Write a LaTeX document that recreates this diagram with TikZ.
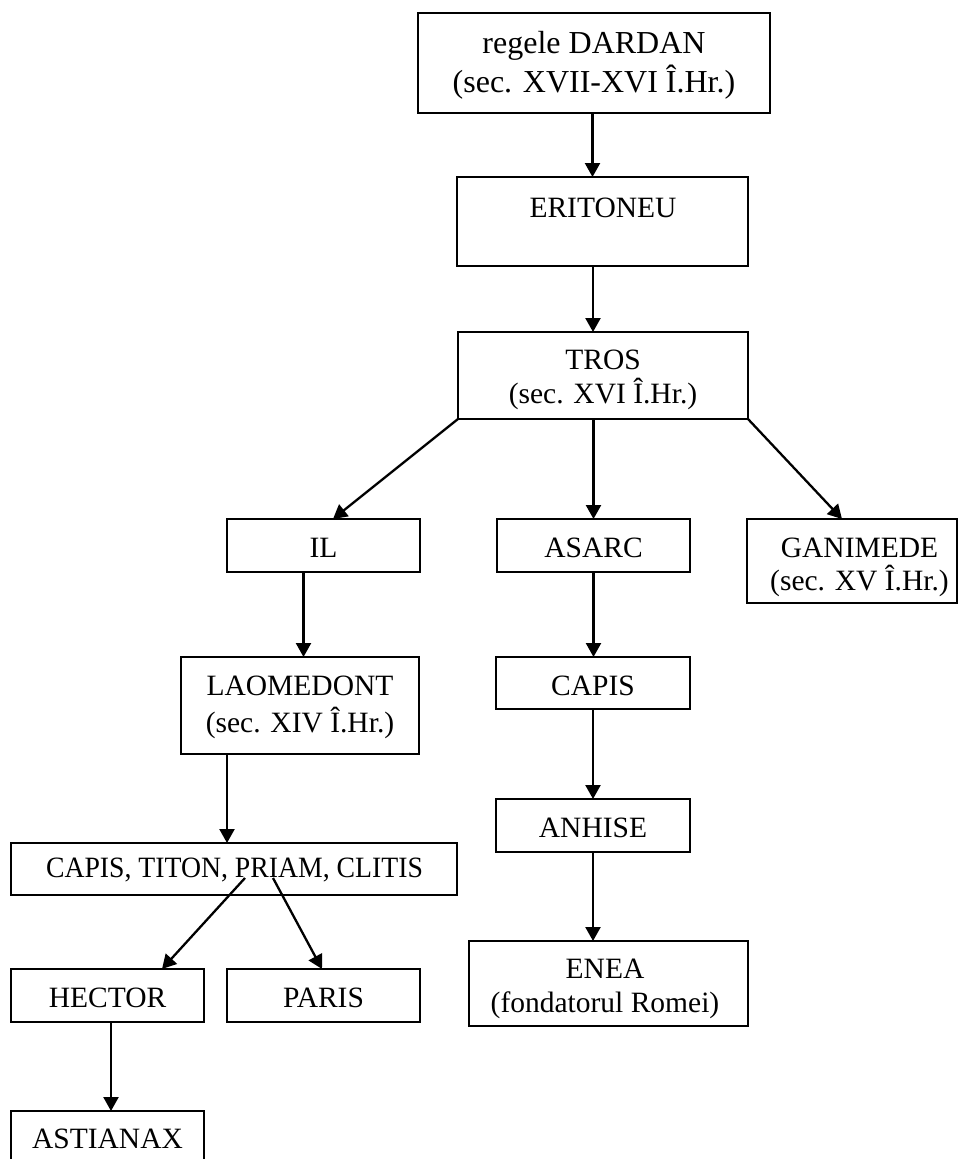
\documentclass[tikz,border=0pt]{standalone}
\usepackage{fontspec}
\setmainfont{Liberation Serif}
\usetikzlibrary{arrows.meta,calc}
\tikzset{
  box/.style={draw=black, line width=2.4pt, inner sep=0pt, outer sep=0pt, fill=none},
  txt/.style={anchor=base, inner sep=0pt, font=\fontsize{29.5}{35}\selectfont},
  bigtxt/.style={txt, font=\fontsize{32}{38}\selectfont},
  arr/.style={line width=2.3pt, -{Triangle[length=14pt,width=15pt]}}
}
\begin{document}
\begin{tikzpicture}[x=1pt,y=-1pt]
\useasboundingbox[fill=white] (0,0) rectangle (958,1159);
% boxes
\node[box, minimum width=352pt, minimum height=100pt] (dardan) at (594,63) {};
\node[box, minimum width=291pt, minimum height=89pt] (eriton) at (602.5,221.5) {};
\node[box, minimum width=290pt, minimum height=87pt] (tros) at (603,375.5) {};
\node[box, minimum width=193pt, minimum height=53pt] (il) at (323.5,545.5) {};
\node[box, minimum width=193pt, minimum height=53pt] (asarc) at (593.5,545.5) {};
\node[box, minimum width=210pt, minimum height=84pt] (gan) at (852,561) {};
\node[box, minimum width=238pt, minimum height=97pt] (laom) at (300,705.5) {};
\node[box, minimum width=194pt, minimum height=52pt] (capis) at (593,683) {};
\node[box, minimum width=446pt, minimum height=52pt] (ctpc) at (234,869) {};
\node[box, minimum width=194pt, minimum height=53pt] (anhise) at (593,825.5) {};
\node[box, minimum width=193pt, minimum height=53pt] (hector) at (107.5,995.5) {};
\node[box, minimum width=193pt, minimum height=53pt] (paris) at (323.5,995.5) {};
\node[box, minimum width=279pt, minimum height=85pt] (enea) at (608.5,983.5) {};
\node[box, minimum width=193pt, minimum height=59pt] (astianax) at (107.5,1140.5) {};
% texts
\node[bigtxt] (dardanA) at (594,53) {regele DARDAN};
\node[bigtxt] (dardanB) at (594,92) {(sec. XVII-XVI Î.Hr.)};
\node[txt] (eritonA) at (603,217) {ERITONEU};
\node[txt] (trosA) at (603,369) {TROS};
\node[txt] (trosB) at (603,403) {(sec. XVI Î.Hr.)};
\node[txt] (ilA) at (323.5,557) {IL};
\node[txt] (asarcA) at (593.5,557) {ASARC};
\node[txt] (ganA) at (859.5,557) {GANIMEDE};
\node[txt] (ganB) at (859.5,590) {(sec. XV Î.Hr.)};
\node[txt] (laomA) at (300,695) {LAOMEDONT};
\node[txt] (laomB) at (300,732) {(sec. XIV Î.Hr.)};
\node[txt] (capisA) at (593,695) {CAPIS};
\node[txt] (ctpcA) at (234.5,877) {\scalebox{0.94}[1]{CAPIS, TITON, PRIAM, CLITIS}};
\node[txt] (anhiseA) at (593,837) {ANHISE};
\node[txt] (hectorA) at (107.5,1007) {HECTOR};
\node[txt] (parisA) at (323.5,1007) {PARIS};
\node[txt] (eneaA) at (605,978) {ENEA};
\node[txt] (eneaB) at (605,1012) {(fondatorul Romei)};
\node[txt] (astianaxA) at (107.5,1148) {ASTIANAX};
% connectors
\draw[arr] ($(dardan.south)+(-1.5,0)$) -- ($(dardan.south |- eriton.north)+(-1.5,0)$);
\draw[arr] ($(dardan.south |- eriton.south)+(-1,0)$) -- ($(dardan.south |- tros.north)+(-1,0)$);
\draw[arr] (tros.south west) -- ($(il.north)+(9.5,0)$);
\draw[arr] (asarc.north |- tros.south) -- (asarc.north);
\draw[arr] (tros.south east) -- ($(gan.north)+(-10,0)$);
\draw[arr] ($(laom.north |- il.south)+(3.5,0)$) -- ($(laom.north)+(3.5,0)$);
\draw[arr] (asarc.south) -- (asarc.south |- capis.north);
\draw[arr] ($(laom.south west)+(46,0)$) -- ($(laom.south west |- ctpc.north)+(46,0)$);
\draw[arr] (capis.south) -- (capis.south |- anhise.north);
\draw[arr] ($(ctpc.south west)+(234,-17)$) -- ($(hector.north)+(54.5,0)$);
\draw[arr] ($(ctpc.south west)+(262,-17)$) -- ($(paris.north)+(-1.5,0)$);
\draw[arr] (anhise.south) -- (anhise.south |- enea.north);
\draw[arr] ($(hector.south)+(3.5,0)$) -- ($(hector.south |- astianax.north)+(3.5,0)$);
\end{tikzpicture}
\end{document}
